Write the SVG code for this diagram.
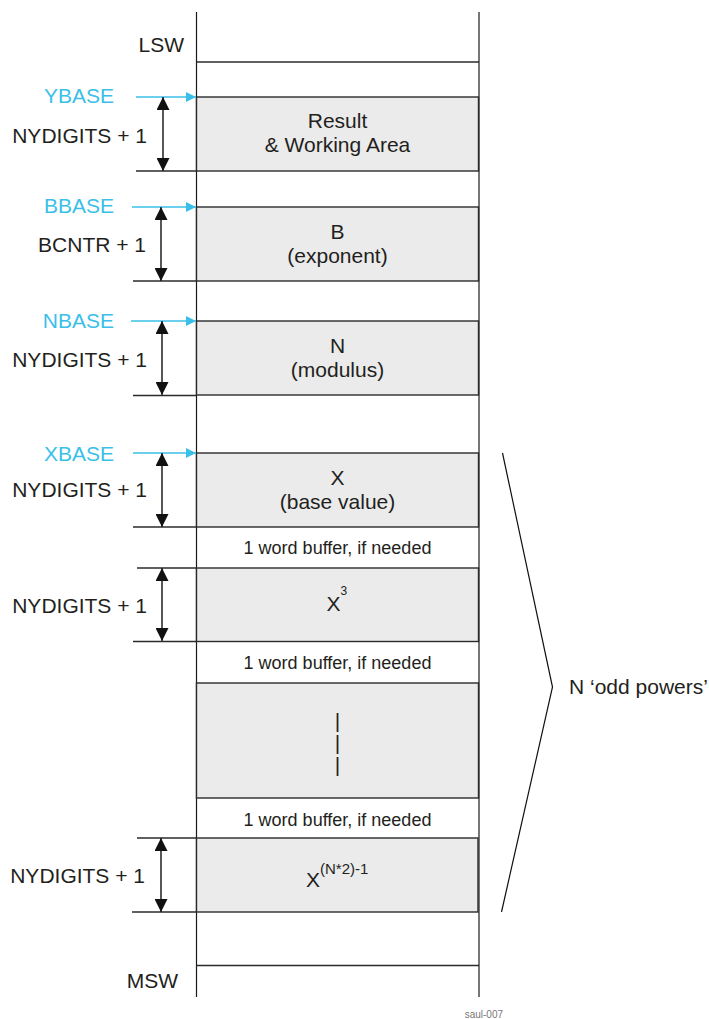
<svg xmlns="http://www.w3.org/2000/svg" width="709" height="1019" viewBox="0 0 709 1019">
<style>
text{font-family:"Liberation Sans",Arial,sans-serif;fill:#231f20}
.lbl{font-size:21px;text-anchor:end}
.base{font-size:21px;text-anchor:end;fill:#3bbfe9}
.box{fill:#ebebeb;stroke:#2b2b2b;stroke-width:1.4}
.ctr{font-size:21px;text-anchor:middle}
.buf{font-size:18px;text-anchor:middle}
.ln{stroke:#2b2b2b;stroke-width:1.4;fill:none}
.vl{stroke:#1a1a1a;stroke-width:1.2}
.cy{stroke:#3bbfe9;stroke-width:1.5;marker-end:url(#cyh)}
.dim{stroke:#111;stroke-width:1.4;marker-start:url(#bh);marker-end:url(#bh)}
</style>
<defs>
<marker id="cyh" viewBox="0 0 10 10" refX="10" refY="5" markerWidth="10" markerHeight="10" markerUnits="userSpaceOnUse" orient="auto"><path d="M0,0 L10,5 L0,10 Z" fill="#3bbfe9"/></marker>
<marker id="bh" viewBox="0 0 12 13" refX="13" refY="6.5" markerWidth="12" markerHeight="13" markerUnits="userSpaceOnUse" orient="auto-start-reverse"><path d="M0,0 L13,6.5 L0,13 Z" fill="#111"/></marker>
</defs>

<g id="frame">
<line class="vl" x1="196.5" y1="12" x2="196.5" y2="997"/>
<line class="vl" x1="479" y1="12" x2="479" y2="997"/>
<line class="ln" x1="196.5" y1="62" x2="479" y2="62"/>
<line class="ln" x1="196.5" y1="965.5" x2="479" y2="965.5"/>
<text x="184" y="52" class="lbl">LSW</text>
<text x="178" y="988" class="lbl">MSW</text>
</g>

<g id="node-result">
<rect class="box" x="196.5" y="97" width="282" height="74"/>
<line class="ln" x1="136" y1="171" x2="196.5" y2="171"/>
<text x="337.5" y="128" class="ctr">Result</text>
<text x="337.5" y="152" class="ctr">&amp; Working Area</text>
</g>

<g id="node-b">
<rect class="box" x="196.5" y="207" width="282" height="74"/>
<line class="ln" x1="133" y1="281" x2="196.5" y2="281"/>
<text x="337.5" y="239" class="ctr">B</text>
<text x="337.5" y="263" class="ctr">(exponent)</text>
</g>

<g id="node-n">
<rect class="box" x="196.5" y="321" width="282" height="74"/>
<line class="ln" x1="133" y1="395.5" x2="196.5" y2="395.5"/>
<text x="337.5" y="353" class="ctr">N</text>
<text x="337.5" y="377" class="ctr">(modulus)</text>
</g>

<g id="node-x">
<rect class="box" x="196.5" y="453" width="282" height="74"/>
<line class="ln" x1="133" y1="527" x2="196.5" y2="527"/>
<text x="337.5" y="485" class="ctr">X</text>
<text x="337.5" y="509" class="ctr">(base value)</text>
</g>

<g id="buffer-1">
<text x="337.5" y="554" class="buf">1 word buffer, if needed</text>
</g>

<g id="node-x3">
<rect class="box" x="196.5" y="568" width="282" height="73.5"/>
<line class="ln" x1="137" y1="568" x2="196.5" y2="568"/>
<line class="ln" x1="133" y1="641.5" x2="196.5" y2="641.5"/>
<text x="326.5" y="611" style="font-size:21px">X<tspan dy="-16" style="font-size:12px">3</tspan></text>
</g>

<g id="buffer-2">
<text x="337.5" y="669" class="buf">1 word buffer, if needed</text>
</g>

<g id="node-dots">
<rect class="box" x="196.5" y="683" width="282" height="115"/>
<text x="337.5" y="728" class="ctr">|</text>
<text x="337.5" y="750" class="ctr">|</text>
<text x="337.5" y="772" class="ctr">|</text>
</g>

<g id="buffer-3">
<text x="337.5" y="826" class="buf">1 word buffer, if needed</text>
</g>

<g id="node-xn">
<rect class="box" x="196.5" y="838" width="281.5" height="74"/>
<line class="ln" x1="137" y1="838" x2="196.5" y2="838"/>
<line class="ln" x1="132" y1="912" x2="196.5" y2="912"/>
<text x="306" y="887" style="font-size:21px">X<tspan dy="-13" style="font-size:15px">(N*2)-1</tspan></text>
</g>

<g id="node-odd-powers">
<polyline class="ln" points="502.5,453 552.5,687 501.5,912" style="stroke:#111;stroke-width:1.2"/>
<text x="569" y="694" style="font-size:21px">N ‘odd powers’</text>
</g>

<g id="labels">
<text x="114" y="103" class="base">YBASE</text>
<text x="147" y="143" class="lbl">NYDIGITS + 1</text>
<text x="114" y="213" class="base">BBASE</text>
<text x="146" y="252" class="lbl">BCNTR + 1</text>
<text x="114" y="327.5" class="base">NBASE</text>
<text x="147" y="366.5" class="lbl">NYDIGITS + 1</text>
<text x="114" y="460.5" class="base">XBASE</text>
<text x="147" y="497" class="lbl">NYDIGITS + 1</text>
<text x="147" y="612.5" class="lbl">NYDIGITS + 1</text>
<text x="145" y="883" class="lbl">NYDIGITS + 1</text>
<text x="503" y="1018" style="font-size:10px;text-anchor:end;fill:#777">saul-007</text>
</g>

<g id="connectors">
<line class="cy" x1="136" y1="97" x2="196" y2="97"/>
<line class="cy" x1="132" y1="207" x2="196" y2="207"/>
<line class="cy" x1="131" y1="321" x2="196" y2="321"/>
<line class="cy" x1="133" y1="453" x2="196" y2="453"/>
<line class="dim" x1="163" y1="97" x2="163" y2="171"/>
<line class="dim" x1="161" y1="207" x2="161" y2="281"/>
<line class="dim" x1="162" y1="321" x2="162" y2="395"/>
<line class="dim" x1="162" y1="453" x2="162" y2="527"/>
<line class="dim" x1="162" y1="568" x2="162" y2="641"/>
<line class="dim" x1="161" y1="838" x2="161" y2="912"/>
</g>
</svg>
